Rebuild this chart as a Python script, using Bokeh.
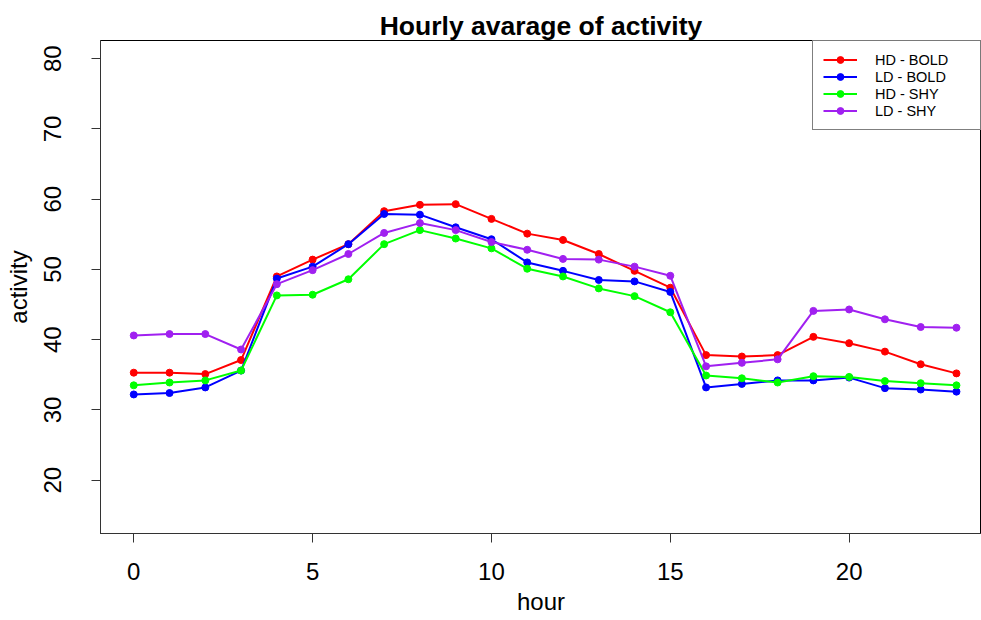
from bokeh.plotting import figure
from bokeh.models import Range1d, FixedTicker, Legend, LegendItem
from bokeh.embed import file_html
from bokeh.resources import INLINE

hours = list(range(24))
hd_bold = [35.3, 35.3, 35.1, 37.1, 49.0, 51.4, 53.6, 58.3, 59.2, 59.3, 57.2, 55.1,
           54.2, 52.2, 49.8, 47.4, 37.8, 37.6, 37.8, 40.4, 39.5, 38.3, 36.5, 35.2]
ld_bold = [32.2, 32.4, 33.2, 35.6, 48.7, 50.4, 53.6, 57.9, 57.8, 56.0, 54.3, 51.0,
           49.8, 48.5, 48.3, 46.8, 33.2, 33.7, 34.2, 34.2, 34.6, 33.1, 32.9, 32.6]
hd_shy = [33.5, 33.9, 34.2, 35.6, 46.3, 46.4, 48.6, 53.6, 55.6, 54.4, 53.0, 50.1,
          49.0, 47.3, 46.2, 43.9, 34.9, 34.5, 33.9, 34.8, 34.7, 34.1, 33.8, 33.5]
ld_shy = [40.6, 40.8, 40.8, 38.6, 47.9, 49.9, 52.2, 55.2, 56.6, 55.6, 53.9, 52.8,
          51.5, 51.4, 50.4, 49.1, 36.2, 36.7, 37.2, 44.1, 44.3, 42.9, 41.8, 41.7]

series = [("HD - BOLD", hd_bold, "#FF0000"),
          ("LD - BOLD", ld_bold, "#0000FF"),
          ("HD - SHY", hd_shy, "#00FF00"),
          ("LD - SHY", ld_shy, "#A020F0")]

x_ticks = [0, 5, 10, 15, 20]
y_ticks = [20, 30, 40, 50, 60, 70, 80]

FONT = "Liberation Sans"

p = figure(width=981, height=620, output_backend="svg", toolbar_location=None,
           x_range=Range1d(-0.93, 23.7), y_range=Range1d(12.4, 82.6),
           min_border_left=100, min_border_right=0, min_border_top=40,
           min_border_bottom=87)

p.title.text = "Hourly avarage of activity"
p.title.text_font = FONT
p.title.text_font_size = "26.5px"
p.title.text_font_style = "bold"
p.title.text_color = "black"
p.title.align = "center"
p.title.offset = 4
p.title.standoff = 0

p.xgrid.visible = False
p.ygrid.visible = False
p.outline_line_color = "black"
p.outline_line_width = 1

for ax in (p.xaxis[0], p.yaxis[0]):
    ax.axis_line_color = "#333333"
    ax.major_tick_in = 0
    ax.major_tick_out = 9
    ax.minor_tick_in = 0
    ax.minor_tick_out = 0
    ax.major_tick_line_color = "#333333"
    ax.major_label_text_font = FONT
    ax.major_label_text_font_size = "24px"
    ax.major_label_text_color = "black"
    ax.axis_label_text_font = FONT
    ax.axis_label_text_font_size = "24px"
    ax.axis_label_text_font_style = "normal"
    ax.axis_label_text_color = "black"

p.xaxis.ticker = FixedTicker(ticks=x_ticks)
p.yaxis.ticker = FixedTicker(ticks=y_ticks)
p.xaxis.axis_label = "hour"
p.yaxis.axis_label = "activity"
p.xaxis.major_label_standoff = 20
p.xaxis.axis_label_standoff = 5
p.yaxis.major_label_orientation = "vertical"
p.yaxis.major_label_standoff = 30
p.yaxis.axis_label_standoff = 10

items = []
for name, vals, color in series:
    r1 = p.line(hours, vals, line_color=color, line_width=2)
    r2 = p.scatter(hours, vals, marker="circle", size=7, fill_color=color,
                   line_color=color)
    items.append(LegendItem(label=name, renderers=[r1, r2]))

legend = Legend(items=items, location="top_right")
legend.border_line_color = "black"
legend.border_line_width = 1
legend.label_text_font = FONT
legend.label_text_font_size = "14.5px"
legend.label_text_color = "black"
legend.glyph_width = 34
legend.glyph_height = 17
legend.label_height = 17
legend.label_width = 95
legend.spacing = 0
legend.padding = 10
legend.margin = 0
legend.label_standoff = 18
p.add_layout(legend)

open("out.html", "w").write(file_html(p, INLINE))
